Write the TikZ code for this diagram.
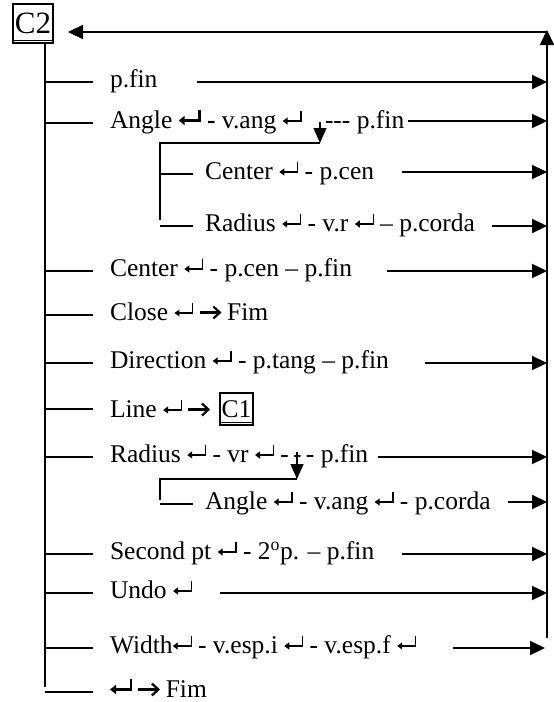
\documentclass[tikz,border=0pt]{standalone}
\usepackage{fontspec}
\setmainfont{Liberation Serif}
\usetikzlibrary{arrows.meta}
\newcommand{\ret}{\tikz[x=1pt,y=1pt,baseline=0pt]{\useasboundingbox (0,0) rectangle (19,17);\draw[line width=1.2pt,-{Triangle[length=5pt,width=7pt]}] (18.4,17.5) -- (18.4,7.5) -- (0,7.5);}}
\newcommand{\bret}{\tikz[x=1pt,y=1pt,baseline=0pt]{\useasboundingbox (0,0) rectangle (22,18);\draw[line width=2.4pt,-{Triangle[length=6pt,width=9pt]}] (20.8,19) -- (20.8,8) -- (0,8);}}
\newcommand{\rarr}{\tikz[x=1pt,y=1pt,baseline=0pt]{\useasboundingbox (0,0) rectangle (21,17);\draw[line width=2.2pt] (0,8) -- (19.5,8);\draw[line width=2.2pt,line join=miter] (13.5,14) -- (20,8) -- (13.5,2);}}
\begin{document}
\begin{tikzpicture}[x=1pt,y=-1pt,
  font=\fontsize{25.5}{30}\selectfont,
  bar/.style={line width=1.8pt},
  brl/.style={line width=1.5pt},
  conn/.style={line width=2.2pt,-{Triangle[length=15pt,width=14pt]}},
  dconn/.style={line width=1.6pt,-{Triangle[length=15pt,width=13pt]}},
  lbl/.style={anchor=base west,inner sep=0pt,outer sep=0pt},
  boxed/.style={draw,line width=1.3pt,inner sep=0pt}]
\useasboundingbox (0,0) rectangle (554,702);

% C2 box
\node[boxed,minimum width=40pt,minimum height=39pt,font=\fontsize{31}{31}\selectfont] (c2) at (33,23.5) {C2};
\draw[line width=1.2pt] ([yshift=3pt]c2.south west) -- ([yshift=3pt]c2.south east);

% main spine
\coordinate (sTop) at (45,43);
\coordinate (sBot) at (45,687);
\draw[bar] (sTop) -- (sBot);

% return bus
\coordinate (busBot) at (547,638);
\coordinate (busTop) at (547,30);
\coordinate (busCorner) at (547,32);
\coordinate (c2in) at (68,32);
\draw[conn] (busBot) -- (busTop);
\draw[conn] (busCorner) -- (c2in);

% rows
\foreach \n/\y in {1/82,2/123,5/271,6/315,7/363,8/409,9/457,11/554,12/593,13/648}{
  \coordinate (b\n) at (45,\y);
  \coordinate (e\n) at (93,\y);
  \draw[brl] (b\n) -- (e\n);
}
\coordinate (b14) at (45,692);
\coordinate (e14) at (93,692);
\draw[brl] (b14) -- (e14);

\node[lbl] (t1) at (110,87.5) {p.fin};
\node[lbl] (t2) at (110,128.5) {Angle \bret\ {\bfseries -} v.ang \ret};
\node[lbl] (t2b) at (325,128.5) {-{}-{}- p.fin};
\node[lbl] (t5) at (110,276.5) {Center \ret\ - p.cen – p.fin};
\node[lbl] (t6) at (110,320.5) {Close \ret\ \rarr\ Fim};
\node[lbl] (t7) at (110,368.5) {Direction \ret\ - p.tang – p.fin};
\node[lbl] (t8) at (110,417.5) {Line \ret\ \rarr};
\node[boxed,minimum width=33pt,minimum height=32pt] (c1) at (236.5,409) {C1};
\draw[line width=1.1pt] ([yshift=3pt]c1.south west) -- ([yshift=3pt]c1.south east);
\node[lbl] (t9) at (110,462.5) {Radius \ret\ - vr \ret\ -\,-\,- p.fin};
\node[lbl] (t11) at (110,559.5) {Second pt \ret\ - 2\textsuperscript{o}p. – p.fin};
\node[lbl] (t12) at (110,598.5) {Undo \ret};
\node[lbl] (t13) at (110,653.5) {Width\ret\ - v.esp.i \ret\ - v.esp.f \ret};
\node[lbl] (t14) at (110,697.5) {\bret\ \rarr\ Fim};

% sub-bracket under Angle
\coordinate (s2a) at (160,143);
\coordinate (s2b) at (320,143);
\coordinate (s2c) at (160,220);
\coordinate (d2) at (320,122);
\draw[brl] (s2b) -- (s2a) -- (s2c);
\draw[dconn] (d2) -- (s2b);
\coordinate (b3) at (160,174);
\coordinate (e3) at (193,174);
\coordinate (b4) at (160,226);
\coordinate (e4) at (193,226);
\draw[brl] (b3) -- (e3);
\draw[brl] (b4) -- (e4);
\node[lbl] (t3) at (205,179.5) {Center \ret\ - p.cen};
\node[lbl] (t4) at (205,231.5) {Radius \ret\ - v.r \ret\ – p.corda};

% sub-bracket under Radius
\coordinate (s9a) at (160,479);
\coordinate (s9b) at (297,479);
\coordinate (s9c) at (160,500);
\coordinate (d9) at (297,452);
\draw[brl] (s9b) -- (s9a) -- (s9c);
\draw[dconn] (d9) -- (s9b);
\coordinate (b10) at (160,504);
\coordinate (e10) at (193,504);
\draw[brl] (b10) -- (e10);
\node[lbl] (t10) at (205,509.5) {Angle \ret\ - v.ang \ret\ - p.corda};

% connectors to the bus
\foreach \n/\x/\y in {1/197/82,2/408/121,3/402/172,4/492/226,5/387/271,7/425/363,9/378/457,10/508/502,11/402/554,12/220/593}{
  \coordinate (a\n) at (\x,\y);
  \coordinate (r\n) at (547,\y);
  \draw[conn] (a\n) -- (r\n);
}
\coordinate (a13) at (453,648);
\coordinate (r13) at (545,648);
\draw[conn] (a13) -- (r13);
\end{tikzpicture}
\end{document}
